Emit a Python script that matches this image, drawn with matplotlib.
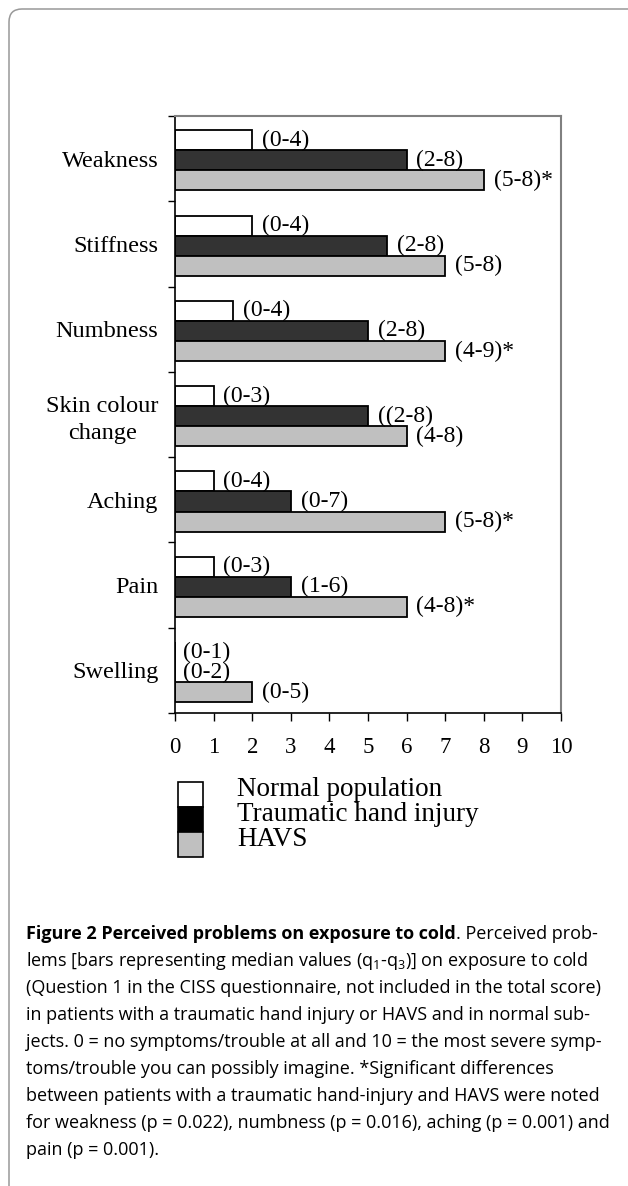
import numpy as np
import matplotlib.pyplot as plt
from matplotlib.patches import FancyBboxPatch, Rectangle

categories = ["Weakness", "Stiffness", "Numbness", "Skin colour\nchange",
              "Aching", "Pain", "Swelling"]
normal = [2, 2, 1.5, 1, 1, 1, 0]
traumatic = [6, 5.5, 5, 5, 3, 3, 0]
havs = [8, 7, 7, 6, 7, 6, 2]
normal_lbl = ["(0-4)", "(0-4)", "(0-4)", "(0-3)", "(0-4)", "(0-3)", "(0-1)"]
traumatic_lbl = ["(2-8)", "(2-8)", "(2-8)", "((2-8)", "(0-7)", "(1-6)", "(0-2)"]
havs_lbl = ["(5-8)*", "(5-8)", "(4-9)*", "(4-8)", "(5-8)*", "(4-8)*", "(0-5)"]
series_names = ["Normal population", "Traumatic hand injury", "HAVS"]

W, H = 628, 1186
fig = plt.figure(figsize=(W / 100, H / 100), dpi=100)
serif = "Liberation Serif"
sans = "Open Sans"

# rounded frame around the figure (open at right/bottom, cropped)
frame = FancyBboxPatch((0.09, -0.5), 7.0, 11.77 + 0.5,
                       boxstyle="round,pad=0,rounding_size=0.13",
                       transform=fig.dpi_scale_trans, fc="none",
                       ec="#999999", lw=1.1)
fig.patches.append(frame)

ax = fig.add_axes([175 / W, 1 - 713 / H, (561 - 175) / W, (713 - 116) / H])
y = np.arange(len(categories)) + 0.02
h = 0.235
ax.barh(y - h, normal, height=h, color="white", edgecolor="black", lw=1.3)
ax.barh(y, traumatic, height=h, color="#333333", edgecolor="black", lw=1.3)
ax.barh(y + h, havs, height=h, color="#c0c0c0", edgecolor="black", lw=1.3)

for vals, lbls, off in [(normal, normal_lbl, -h), (traumatic, traumatic_lbl, 0),
                        (havs, havs_lbl, h)]:
    for i, (v, t) in enumerate(zip(vals, lbls)):
        dx = 7 if v > 0 else 5.5
        ax.annotate(t, (v, y[i] + off), xytext=(dx, 0), textcoords="offset points",
                    va="center", ha="left", fontsize=17, family=serif)

ax.set_xlim(0, 10)
ax.set_ylim(len(categories) - 0.5, -0.5)
ax.set_xticks(range(11))
ax.set_xticklabels([str(i) for i in range(11)], family=serif, fontsize=16.5)
ax.set_yticks(np.arange(-0.5, len(categories), 1.0))
ax.set_yticklabels([])
ax.set_yticks(np.arange(len(categories)), minor=True)
ax.set_yticklabels(categories, minor=True, family=serif, fontsize=17.5,
                   ha="right", multialignment="center", linespacing=1.4)
ax.tick_params(axis="y", which="minor", length=0, pad=12)
ax.tick_params(axis="y", which="major", length=5, width=1, direction="out")
ax.tick_params(axis="x", length=6, width=1, direction="out", pad=11)
for s in ["left", "bottom"]:
    ax.spines[s].set_color("black")
    ax.spines[s].set_linewidth(1.2)
for s in ["top", "right"]:
    ax.spines[s].set_color("#808080")
    ax.spines[s].set_linewidth(1.5)

# legend: stacked swatches
colors = ["white", "black", "#c0c0c0"]
for k, (c, name) in enumerate(zip(colors, series_names)):
    top = 782 + k * 25
    fig.patches.append(Rectangle((178 / W, 1 - (top + 25) / H), 25 / W, 25 / H,
                                 transform=fig.transFigure, fc=c, ec="black", lw=1.2))
    fig.text(237 / W, 1 - (796 + k * 25) / H, name, family=serif, fontsize=19.5,
             va="baseline", ha="left")

# caption
fig.canvas.draw()
r = fig.canvas.get_renderer()
plt.rcParams["mathtext.fontset"] = "custom"
plt.rcParams["mathtext.rm"] = sans
x0 = 26 / W
fs = 13
lines = [
    "lems [bars representing median values (q$_1$-q$_3$)] on exposure to cold",
    "(Question 1 in the CISS questionnaire, not included in the total score)",
    "in patients with a traumatic hand injury or HAVS and in normal sub-",
    "jects. 0 = no symptoms/trouble at all and 10 = the most severe symp-",
    "toms/trouble you can possibly imagine. *Significant differences",
    "between patients with a traumatic hand-injury and HAVS were noted",
    "for weakness (p = 0.022), numbness (p = 0.016), aching (p = 0.001) and",
    "pain (p = 0.001).",
]
y0 = 939
t1 = fig.text(x0, 1 - y0 / H, "Figure 2 Perceived problems on exposure to cold",
              family=sans, fontsize=fs, weight="bold", va="baseline")
bb = t1.get_window_extent(r)
fig.text(bb.x1 / W, 1 - y0 / H, ". Perceived prob-", family=sans, fontsize=fs,
         va="baseline")
for j, ln in enumerate(lines):
    fig.text(x0, 1 - (y0 + 27 * (j + 1)) / H, ln, family=sans, fontsize=fs,
             va="baseline")

fig.savefig("out.png", dpi=100)
